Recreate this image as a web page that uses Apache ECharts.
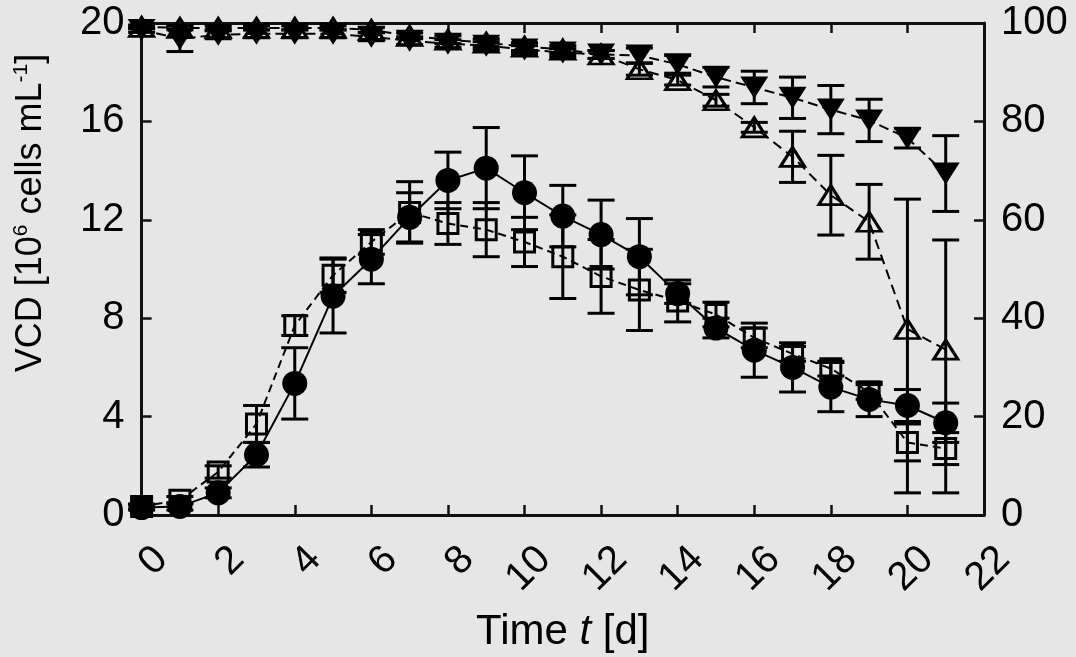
<!DOCTYPE html>
<html><head><meta charset="utf-8">
<script src="https://cdn.jsdelivr.net/npm/echarts@6/dist/echarts.min.js"></script>
<style>html,body{margin:0;padding:0;background:#e6e6e6}#c{width:1076px;height:657px}</style>
</head><body><div id="c"></div>
<script>
const days = [0,1,2,3,4,5,6,7,8,9,10,11,12,13,14,15,16,17,18,19,20,21];
const xTickLabels = ['0','2','4','6','8','10','12','14','16','18','20','22'];
// VCD (left axis), filled circles
const vcdCircle    = [0.3,0.35,0.9,2.45,5.35,8.9,10.4,12.1,13.6,14.1,13.1,12.15,11.4,10.5,9.0,7.6,6.7,6.0,5.2,4.7,4.45,3.75];
const vcdCircleErr = [0.1,0.15,0.2,0.5,1.45,1.5,1.0,1.0,1.15,1.65,1.5,1.25,1.4,1.55,0.4,0.4,1.1,1.0,1.0,0.7,0.65,0.8];
// VCD (left axis), open squares
const vcdSquare    = [0.35,0.6,1.75,3.7,7.7,9.75,11.1,12.3,11.85,11.6,11.1,10.5,9.7,9.15,8.7,8.15,7.2,6.55,5.95,5.0,2.95,2.7];
const vcdSquareErr = [0.1,0.15,0.25,0.75,0.4,0.7,0.5,1.25,0.85,1.1,1.0,1.7,1.5,1.65,0.85,0.5,0.4,0.3,0.3,0.3,0.75,0.65];
// Viability (right axis), filled down-triangles
const viaDown    = [98.6,96.8,97.6,97.8,97.8,97.8,97.2,96.4,95.8,95.4,94.6,94.0,93.6,93.4,91.6,89.0,86.9,84.8,82.4,80.2,76.6,69.4];
const viaDownErr = [0.5,2.6,0.8,0.8,0.8,0.8,0.8,0.8,0.8,0.8,0.8,0.8,0.8,1.5,1.8,2.0,3.3,4.2,4.9,4.3,2.0,7.7];
// Viability (right axis), open up-triangles (upper / lower error)
const viaUp        = [99.2,99.0,99.0,99.0,99.0,99.0,98.6,97.4,96.6,96.0,95.2,94.6,93.6,90.6,88.4,84.3,78.8,72.8,65.0,59.6,37.8,33.6];
const viaUpErrHigh = [0.4,0.4,0.4,0.4,0.4,0.4,0.5,0.6,0.8,0.8,0.8,0.8,0.8,1.2,1.0,1.2,1.0,5.2,8.1,7.6,26.4,22.3];
const viaUpErrLow  = [0.4,0.4,0.4,0.4,0.4,0.4,0.5,0.6,0.8,0.8,0.8,0.8,0.8,1.2,1.0,1.2,1.0,5.2,8.1,7.6,33.3,29.1];

const FONT = '"Liberation Sans", Arial, sans-serif';
const BG = '#e6e6e6';

function pairs(vals){ return days.map((d,i)=>[d, vals[i]]); }
function errSeries(vals, errHigh, errLow, yIdx){
  return {
    type:'custom', xAxisIndex:0, yAxisIndex:yIdx, clip:false, z:2, silent:true,
    data: days.map((d,i)=>[d, vals[i], errHigh[i], errLow[i]]),
    renderItem(params, api){
      const x = api.value(0), y = api.value(1), eh = api.value(2), el = api.value(3);
      const pt = api.coord([x, y+eh]), pb = api.coord([x, y-el]);
      const hw = 13.5;
      const st = {stroke:'#000', lineWidth:3};
      return {type:'group', children:[
        {type:'line', shape:{x1:pt[0],y1:pt[1],x2:pb[0],y2:pb[1]}, style:st},
        {type:'line', shape:{x1:pt[0]-hw,y1:pt[1],x2:pt[0]+hw,y2:pt[1]}, style:st},
        {type:'line', shape:{x1:pb[0]-hw,y1:pb[1],x2:pb[0]+hw,y2:pb[1]}, style:st}
      ]};
    }
  };
}

const axisLineStyle = {color:'#111', width:3};
const tickStyle = {show:true, inside:true, length:10, lineStyle:{color:'#111', width:2.5}};
const labelBase = {fontFamily:FONT, fontSize:40, color:'#000'};

const chart = echarts.init(document.getElementById('c'), null, {renderer:'canvas'});
chart.setOption({
  backgroundColor: BG,
  animation:false,
  grid:{left:141.6, right:92, top:23, bottom:142, outerBoundsMode:'none', containLabel:false},
  xAxis:[
    {type:'value', min:0, max:22, interval:2, position:'bottom',
     axisLine:{show:true, onZero:false, lineStyle:axisLineStyle},
     axisTick:tickStyle, splitLine:{show:false},
     axisLabel:Object.assign({}, labelBase, {rotate:45, align:'right', verticalAlign:'middle', margin:58,
       padding:[0,-28,0,0],
       formatter:(v)=>xTickLabels[Math.round(v/2)]}),
     name:'Time {i|t} [d]', nameLocation:'middle', nameGap:117,
     nameTextStyle:{fontFamily:FONT, fontSize:42, color:'#000', verticalAlign:'middle',
       rich:{i:{fontFamily:FONT, fontSize:42, color:'#000', fontStyle:'italic'}}}},
    {type:'value', min:0, max:22, interval:2, position:'top',
     axisLine:{show:true, onZero:false, lineStyle:axisLineStyle},
     axisTick:tickStyle, axisLabel:{show:false}, splitLine:{show:false}}
  ],
  yAxis:[
    {type:'value', min:0, max:20, interval:4, position:'left',
     axisLine:{show:true, onZero:false, lineStyle:axisLineStyle},
     axisTick:tickStyle, splitLine:{show:false},
     axisLabel:Object.assign({}, labelBase, {margin:17})},
    {type:'value', min:0, max:100, interval:20, position:'right',
     axisLine:{show:true, onZero:false, lineStyle:axisLineStyle},
     axisTick:tickStyle, splitLine:{show:false},
     axisLabel:Object.assign({}, labelBase, {margin:17})}
  ],
  graphic:[{
    type:'text', x:31, y:213, rotation:Math.PI/2, silent:true,
    style:{
      text:'{n|VCD [10}{s|6}{n| cells mL}{s|-1}{n|]}',
      align:'center', verticalAlign:'middle',
      rich:{
        n:{fontFamily:FONT, fontSize:36, color:'#000', lineHeight:40},
        s:{fontFamily:FONT, fontSize:21, color:'#000', verticalAlign:'top', lineHeight:40}
      }
    }
  }],
  series:[
    errSeries(vcdCircle, vcdCircleErr, vcdCircleErr, 0),
    errSeries(vcdSquare, vcdSquareErr, vcdSquareErr, 0),
    errSeries(viaDown, viaDownErr, viaDownErr, 1),
    errSeries(viaUp, viaUpErrHigh, viaUpErrLow, 1),
    {type:'line', xAxisIndex:0, yAxisIndex:0, data:pairs(vcdCircle), z:3, silent:true,
     symbol:'circle', symbolSize:25, showAllSymbol:true,
     itemStyle:{color:'#000'}, lineStyle:{color:'#000', width:2}},
    {type:'line', xAxisIndex:0, yAxisIndex:0, data:pairs(vcdSquare), z:4, silent:true,
     symbol:'rect', symbolSize:20, showAllSymbol:true,
     itemStyle:{color:'rgba(0,0,0,0)', borderColor:'#000', borderWidth:3},
     lineStyle:{color:'#000', width:2, type:[8,5]}},
    {type:'line', xAxisIndex:0, yAxisIndex:1, data:pairs(viaDown), z:3, silent:true,
     symbol:'triangle', symbolRotate:180, symbolSize:[28,22], showAllSymbol:true,
     itemStyle:{color:'#000'}, lineStyle:{color:'#000', width:2, type:[10,5]}},
    {type:'line', xAxisIndex:0, yAxisIndex:1, data:pairs(viaUp), z:4, silent:true,
     symbol:'triangle', symbolSize:[24,19], showAllSymbol:true,
     itemStyle:{color:'rgba(0,0,0,0)', borderColor:'#000', borderWidth:3},
     lineStyle:{color:'#000', width:2, type:[10,6]}}
  ]
});
</script></body></html>
